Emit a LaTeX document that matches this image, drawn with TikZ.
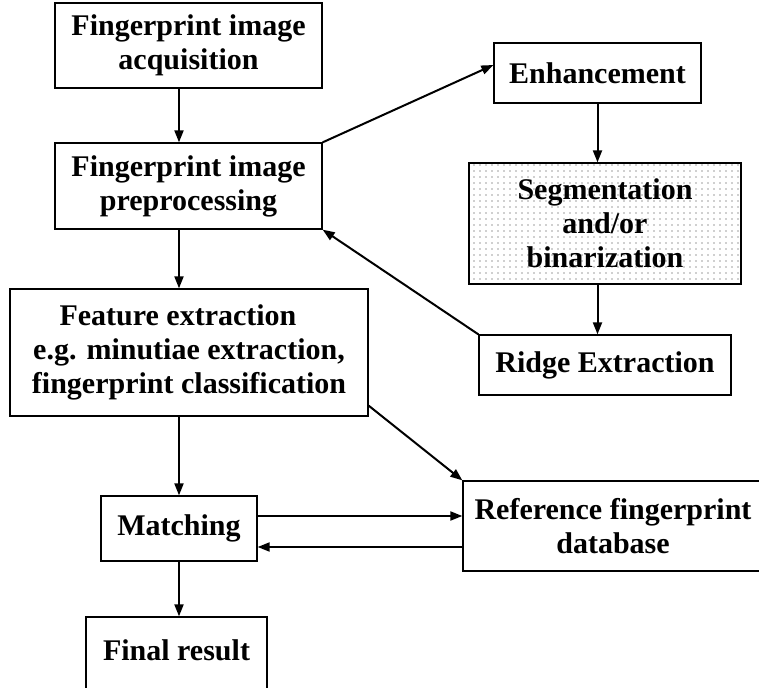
\documentclass[tikz,border=0pt]{standalone}
\usepackage{fontspec}
\setmainfont{Liberation Serif}
\usetikzlibrary{positioning,arrows.meta,patterns.meta}

\begin{document}
\begin{tikzpicture}[x=1pt, y=-1pt,
    box/.style={draw, line width=1.3pt, align=center, inner sep=0,
      font=\fontsize{30}{34}\selectfont\bfseries},
    dotted box/.style={box, pattern={Dots[distance=6pt, radius=0.6pt]},
      pattern color=black!80},
    arr/.style={line width=2pt, -{Triangle[length=12pt, width=9pt]}}]
  \useasboundingbox (0,0) rectangle (759,687);
  \node[box, minimum width=267pt, minimum height=85pt] (acq) at (188.5,45.5)
    {Fingerprint image\\acquisition};
  \node[box, minimum width=267pt, minimum height=86pt] (pre) at (188.5,186)
    {Fingerprint image\\preprocessing};
  \node[box, minimum width=358pt, minimum height=127pt] (feat) at (189,352.5)
    {Feature extraction\hspace*{22pt}\\e.g. minutiae extraction,\\fingerprint classification};
  \node[box, minimum width=156pt, minimum height=65pt] (match) at (179,528.5)
    {Matching};
  \node[box, minimum width=181pt, minimum height=80pt, text height=20pt,
    text depth=14pt] (final) at (176.5,657) {Final result};
  \node[box, minimum width=207pt, minimum height=60pt] (enh) at (597.5,73)
    {Enhancement};
  \node[dotted box, minimum width=272pt, minimum height=121pt] (seg) at (605,223.5)
    {Segmentation\\and/or\\binarization};
  \node[box, minimum width=252pt, minimum height=60pt] (ridge) at (605,365)
    {Ridge Extraction};
  \node[box, minimum width=300pt, minimum height=90pt] (ref) at (613,526)
    {Reference fingerprint\\database};
  \draw[arr] (acq.south -| match) -- (pre.north -| match);
  \draw[arr] (pre.south -| match) -- (feat.north -| match);
  \draw[arr] (feat.south -| match) -- (match.north);
  \draw[arr] (match.south) -- (final.north -| match);
  \draw[arr] (pre.north east) -- ([yshift=8pt]enh.west);
  \draw[arr] (enh.south) -- (enh.south |- seg.north);
  \draw[arr] (enh.south |- seg.south) -- (enh.south |- ridge.north);
  \draw[arr] (ridge.north west) -- (pre.south east);
  \draw[arr] ([yshift=11pt]feat.south east) -- (ref.north west);
  \draw[arr] ([yshift=12.5pt]match.east) -- ([yshift=12.5pt]match.east -| ref.west);
  \draw[arr] ([yshift=-18.5pt]match.east -| ref.west) -- ([yshift=-18.5pt]match.east);
\end{tikzpicture}
\end{document}
